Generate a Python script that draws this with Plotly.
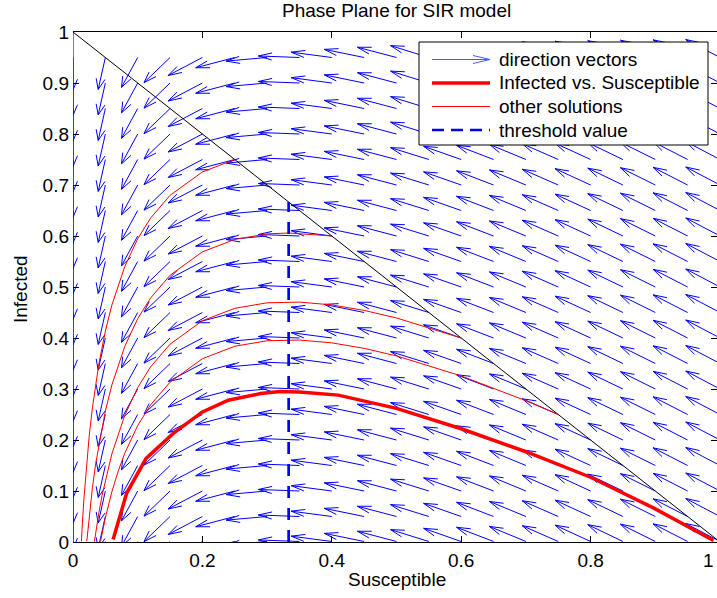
import numpy as np
import plotly.graph_objects as go

# ---------------- data ----------------
# SIR model parameters (infection rate / recovery rate -> threshold S = 1/3)
beta = 3.0
gamma = 1.0

# grid for direction vectors
S_grid = [0.0, 0.05, 0.1, 0.15, 0.2, 0.25, 0.3, 0.35, 0.4, 0.45, 0.5,
          0.55, 0.6, 0.65, 0.7, 0.75, 0.8, 0.85, 0.9, 0.95, 1.0]
I_grid = [0.001, 0.05, 0.1, 0.15, 0.2, 0.25, 0.3, 0.35, 0.4, 0.45, 0.5,
          0.55, 0.6, 0.65, 0.7, 0.75, 0.8, 0.85, 0.9, 0.95]

# main solution (Infected vs. Susceptible)
main_S = [0.99, 0.90, 0.80, 0.70, 0.60, 0.50, 0.41, 0.35, 0.32, 0.29, 0.24,
          0.20, 0.155, 0.113, 0.083, 0.062]
main_I = [0.003, 0.065, 0.127, 0.177, 0.222, 0.262, 0.288, 0.294, 0.295, 0.291,
          0.278, 0.255, 0.213, 0.164, 0.096, 0.005]

# other solutions
solA_S = [0.25, 0.2, 0.15, 0.12, 0.1, 0.08, 0.06, 0.05, 0.04, 0.03, 0.025, 0.02, 0.017, 0.015, 0.013]
solA_I = [0.75, 0.7256, 0.6797, 0.6353, 0.5946, 0.5402, 0.4643, 0.4135, 0.3491, 0.2632, 0.2075, 0.1381, 0.0869, 0.0472, 0.0015]

solB_S = [0.4, 0.35, 0.3333, 0.3, 0.25, 0.2, 0.15, 0.12, 0.1, 0.08, 0.06, 0.05, 0.04, 0.035, 0.03, 0.025, 0.0213]
solB_I = [0.6, 0.6055, 0.6059, 0.6041, 0.5933, 0.5689, 0.5230, 0.4786, 0.4379, 0.3835, 0.3076, 0.2568, 0.1924, 0.1529, 0.1065, 0.0508, 0.0011]

solC_S = [0.6, 0.5, 0.45, 0.4, 0.35, 0.3, 0.25, 0.2, 0.15, 0.12, 0.1, 0.08, 0.06, 0.05, 0.045, 0.04, 0.035, 0.033]
solC_I = [0.4, 0.4393, 0.4541, 0.4649, 0.4704, 0.4690, 0.4582, 0.4338, 0.3879, 0.3435, 0.3028, 0.2484, 0.1725, 0.1217, 0.0916, 0.0573, 0.0178, 0.0002]

solD_S = [0.75, 0.7, 0.6, 0.5, 0.45, 0.4, 0.35, 0.3, 0.25, 0.2, 0.15, 0.12, 0.1, 0.08, 0.07, 0.06, 0.05, 0.045, 0.0425]
solD_I = [0.25, 0.2770, 0.3256, 0.3649, 0.3797, 0.3905, 0.3960, 0.3946, 0.3838, 0.3594, 0.3135, 0.2691, 0.2284, 0.1740, 0.1395, 0.0981, 0.0473, 0.0172, 0.0007]

diag_S = [0.0, 1.0]
diag_I = [1.0, 0.0]

thr_S = [0.3333, 0.3333]
thr_I = [0.0, 0.6667]

x_tickvals = [0, 0.2, 0.4, 0.6, 0.8]
x_ticktext = ["0", "0.2", "0.4", "0.6", "0.8"]
y_tickvals = [0, 0.1, 0.2, 0.3, 0.4, 0.5, 0.6, 0.7, 0.8, 0.9, 1.0]
y_ticktext = ["0", "0.1", "0.2", "0.3", "0.4", "0.5", "0.6", "0.7", "0.8", "0.9", "1"]

# ---------------- direction field (quiver-like) ----------------
L = 0.0636      # arrow length in data units
ha, hb = 0.33, 0.33  # arrowhead proportions
qx, qy = [], []
for s in S_grid:
    for i in I_grid:
        u = -beta * s * i
        v = beta * s * i - gamma * i
        n = np.hypot(u, v)
        if n == 0:
            continue
        u, v = L * u / n, L * v / n
        tx, ty = s + u, i + v
        qx += [s, tx, None,
               tx - ha * (u + hb * v), tx, tx - ha * (u - hb * v), None]
        qy += [i, ty, None,
               ty - ha * (v - hb * u), ty, ty - ha * (v + hb * u), None]

BLUE = "rgb(0,0,255)"
RED = "rgb(255,0,0)"
FONT = "Liberation Sans, Arial, Helvetica, sans-serif"
FS = 19

fig = go.Figure()
fig.add_trace(go.Scatter(x=qx, y=qy, mode="lines", name="direction vectors",
                         line=dict(color=BLUE, width=1), showlegend=False,
                         hoverinfo="skip"))
fig.add_trace(go.Scatter(x=diag_S, y=diag_I, mode="lines", line=dict(color="black", width=1),
                         showlegend=False, hoverinfo="skip"))
for sx, sy in [(solA_S, solA_I), (solB_S, solB_I), (solC_S, solC_I), (solD_S, solD_I)]:
    fig.add_trace(go.Scatter(x=sx, y=sy, mode="lines", name="other solutions",
                             line=dict(color=RED, width=1), showlegend=False))
fig.add_trace(go.Scatter(x=main_S, y=main_I, mode="lines", name="Infected vs. Susceptible",
                         line=dict(color=RED, width=3.5), showlegend=False))
fig.add_trace(go.Scatter(x=thr_S, y=thr_I, mode="lines", name="threshold value",
                         line=dict(color=BLUE, width=2.7, dash="12px,10px"), showlegend=False))

# Target plot area in window pixels: x 73..717 (S=1 at ~720 px), y 32..542.
W, H = 717, 598
ml, mr, mt, mb = 73, 0, 32, 56
pw = W - ml - mr   # 644
ph = H - mt - mb   # 510
xmax = pw / 647.0

def px_x(p):
    return (p - ml) / pw

def px_y(p):
    return (H - mb - p) / ph

shapes = [
    dict(type="line", xref="x", yref="paper", x0=0, x1=0, y0=0, y1=1,
         line=dict(color="black", width=1), layer="below"),
]

# manual legend
bx0, bx1, by0, by1 = px_x(419), px_x(708), px_y(145), px_y(42)
shapes.append(dict(type="rect", xref="paper", yref="paper", x0=bx0, x1=bx1, y0=by0, y1=by1,
                   fillcolor="white", line=dict(color="black", width=1)))
rows = [59.5, 83.0, 106.5, 130.0]
lx0, lx1 = px_x(432), px_x(490)
labels = ["direction vectors", "Infected vs. Susceptible", "other solutions", "threshold value"]
LEGBLUE = "rgb(70,90,255)"
r0 = px_y(rows[0])
shapes.append(dict(type="line", xref="paper", yref="paper", x0=lx0, x1=lx1, y0=r0, y1=r0,
                   line=dict(color=LEGBLUE, width=1)))
shapes.append(dict(type="path", xref="paper", yref="paper",
                   path=f"M {px_x(473)} {px_y(rows[0]-4)} L {lx1} {r0} L {px_x(473)} {px_y(rows[0]+4)}",
                   line=dict(color=LEGBLUE, width=1)))
r1 = px_y(rows[1])
shapes.append(dict(type="line", xref="paper", yref="paper", x0=lx0, x1=lx1, y0=r1, y1=r1,
                   line=dict(color=RED, width=3.5)))
r2 = px_y(rows[2])
shapes.append(dict(type="line", xref="paper", yref="paper", x0=lx0, x1=lx1, y0=r2, y1=r2,
                   line=dict(color=RED, width=1)))
r3 = px_y(rows[3])
shapes.append(dict(type="line", xref="paper", yref="paper", x0=lx0, x1=lx1, y0=r3, y1=r3,
                   line=dict(color=BLUE, width=2.7, dash="12px,7px")))

annotations = []
for lab, r in zip(labels, rows):
    annotations.append(dict(text=lab, xref="paper", yref="paper", x=px_x(497), y=px_y(r),
                            xanchor="left", yanchor="middle", showarrow=False,
                            font=dict(family=FONT, size=FS, color="black")))
annotations.append(dict(text="Phase Plane for SIR model", xref="paper", yref="paper",
                        x=px_x(396.5), y=px_y(11), xanchor="center", yanchor="middle",
                        showarrow=False, font=dict(family=FONT, size=FS, color="black")))
annotations.append(dict(text="Susceptible", xref="paper", yref="paper",
                        x=px_x(396.5), y=px_y(579), xanchor="center", yanchor="middle",
                        showarrow=False, font=dict(family=FONT, size=FS, color="black")))
annotations.append(dict(text="Infected", xref="paper", yref="paper",
                        x=px_x(20), y=px_y(289), xanchor="center", yanchor="middle",
                        textangle=-90, showarrow=False,
                        font=dict(family=FONT, size=FS, color="black")))
annotations.append(dict(text="1", xref="paper", yref="paper",
                        x=px_x(716), y=px_y(560), xanchor="right", yanchor="middle",
                        showarrow=False, font=dict(family=FONT, size=FS, color="black")))

fig.update_layout(
    width=W, height=H, autosize=False,
    margin=dict(l=ml, r=mr, t=mt, b=mb, pad=0),
    paper_bgcolor="white", plot_bgcolor="white",
    font=dict(family=FONT, size=FS, color="black"),
    showlegend=False,
    shapes=shapes, annotations=annotations,
    xaxis=dict(range=[0, xmax], tickvals=x_tickvals, ticktext=x_ticktext,
               ticks="inside", ticklen=6, tickcolor="black", tickwidth=1,
               ticklabelstandoff=1,
               showline=True, linecolor="black", linewidth=1, mirror="ticks",
               showgrid=False, zeroline=False, fixedrange=True, automargin=False),
    yaxis=dict(range=[0, 1], tickvals=y_tickvals, ticktext=y_ticktext,
               ticks="inside", ticklen=6, tickcolor="black", tickwidth=1,
               ticklabelstandoff=3,
               showline=False, mirror="ticks",
               showgrid=False, zeroline=False, fixedrange=True, automargin=False),
)

fig.write_html("out.html", config={"displayModeBar": False},
               post_script="document.body.style.margin='0px';document.body.style.overflow='hidden';")
